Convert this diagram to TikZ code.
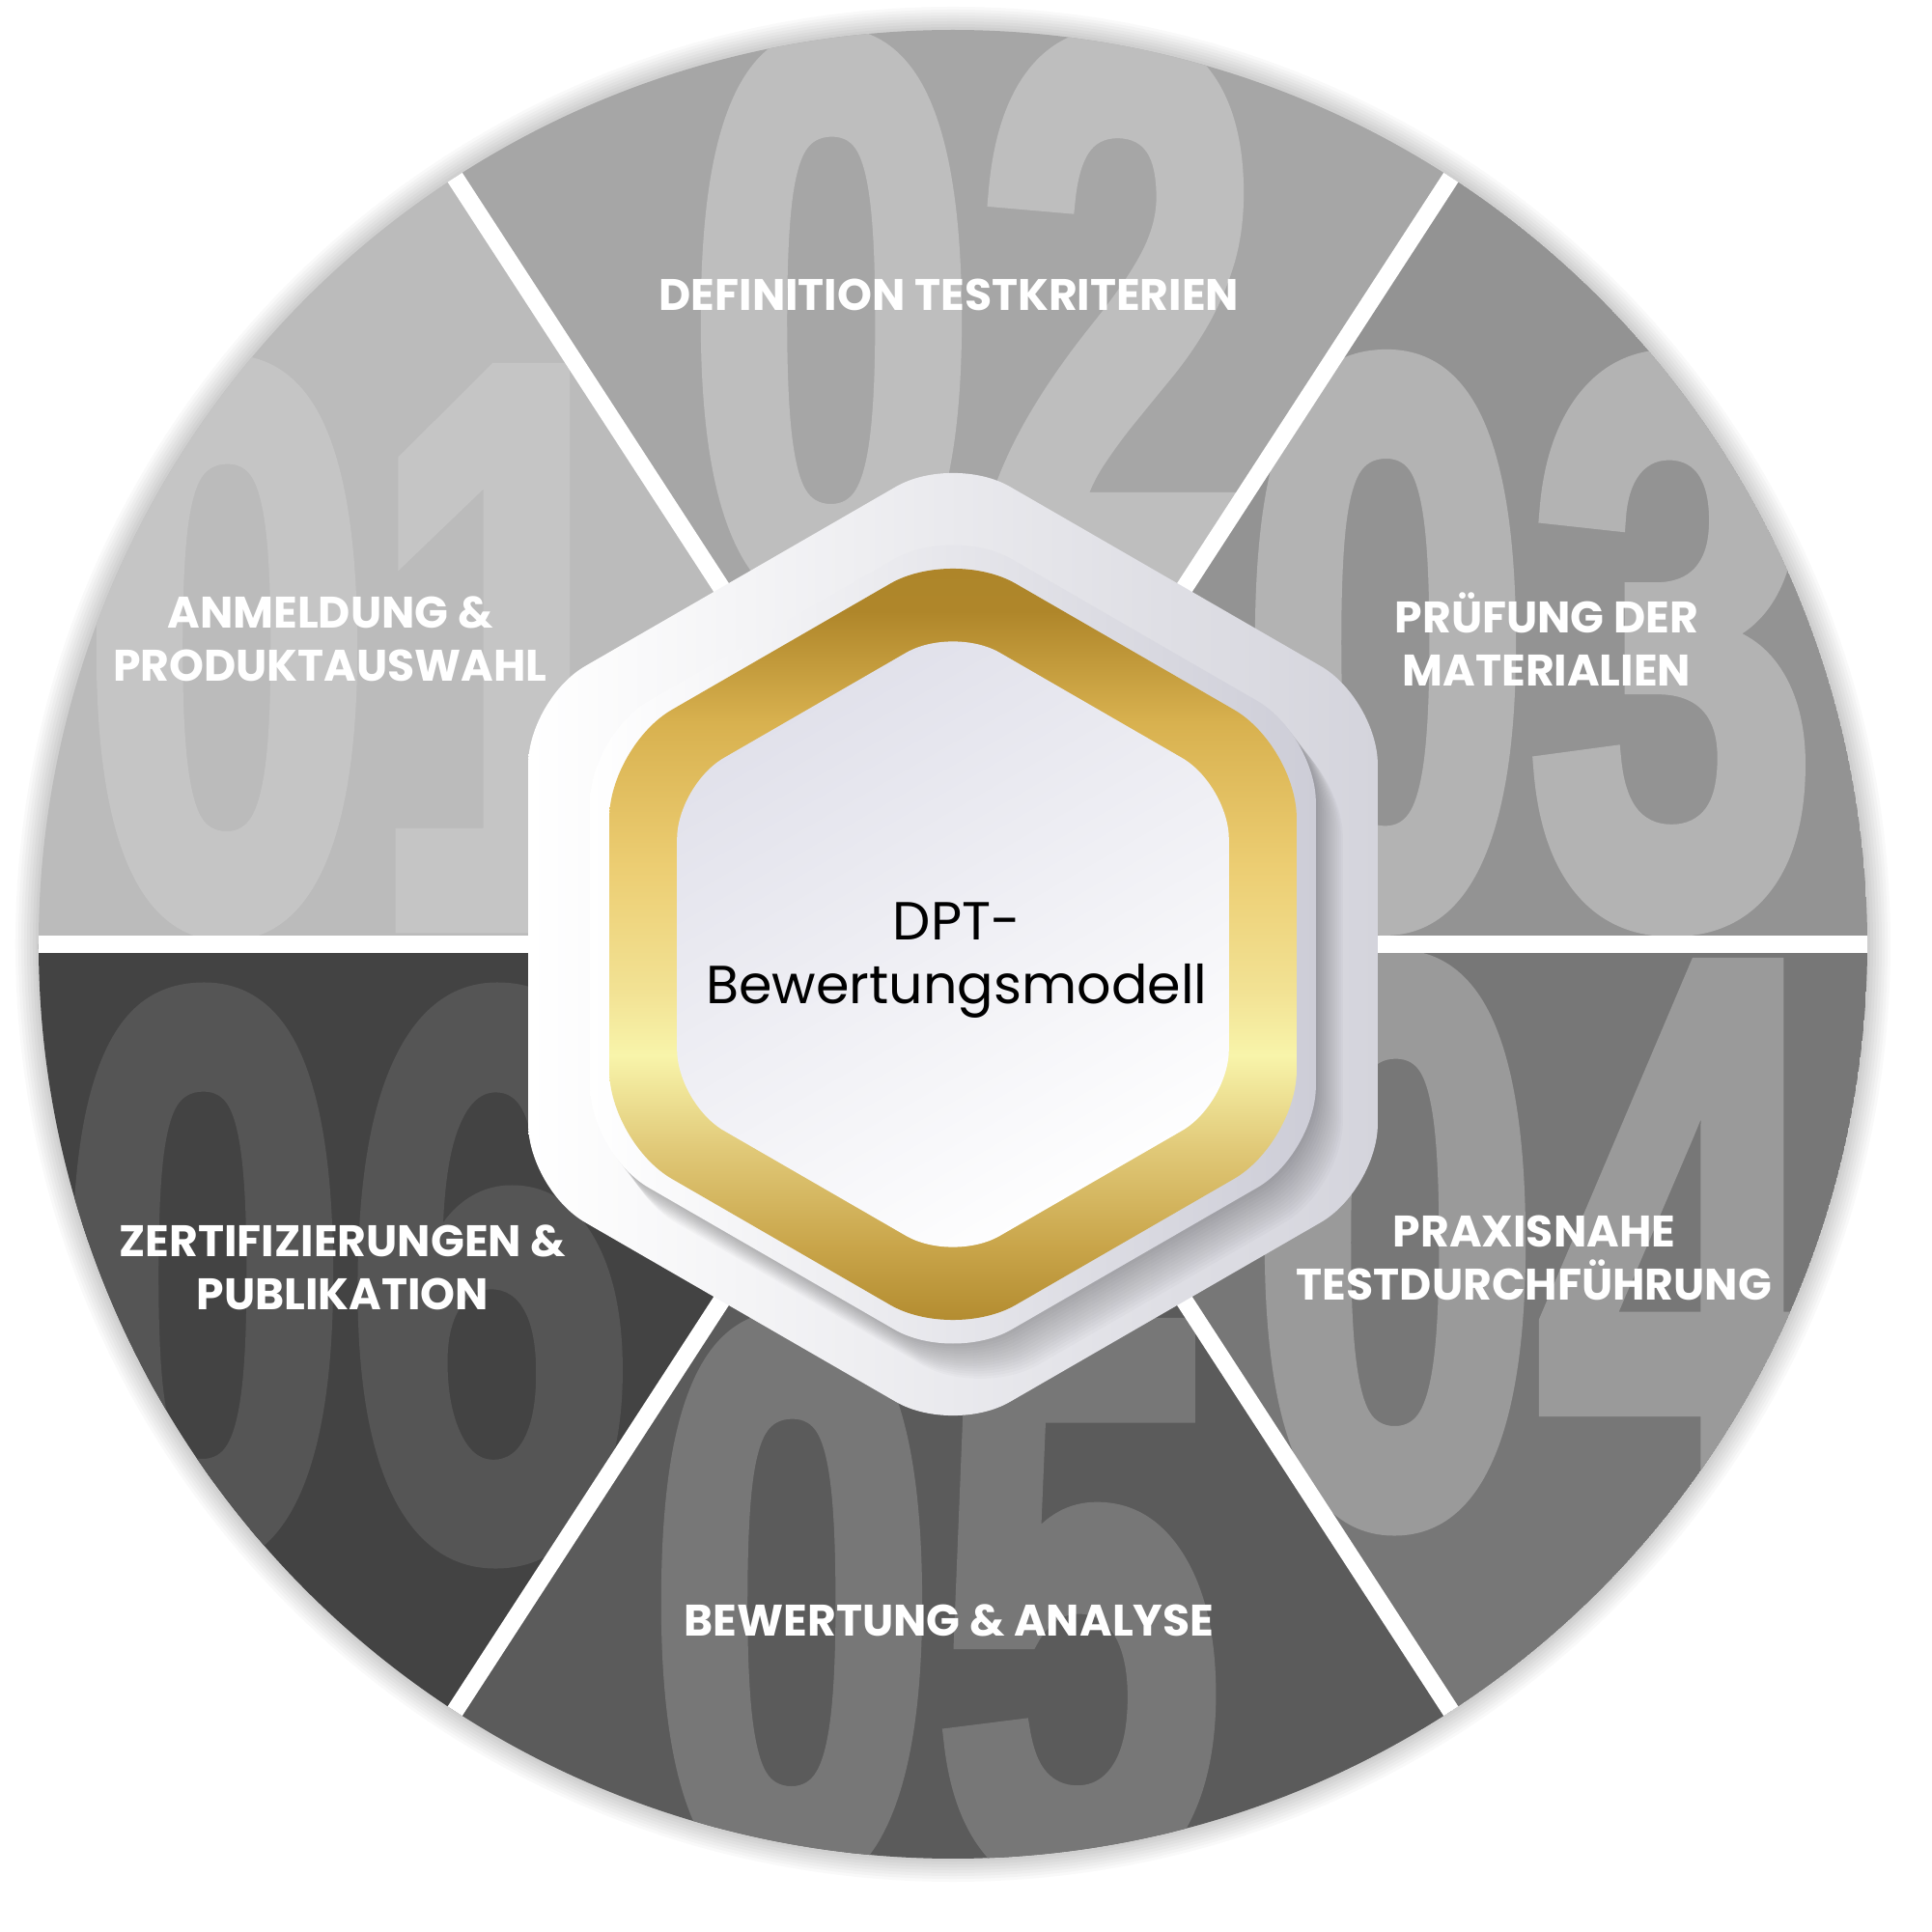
\documentclass[tikz,border=0pt]{standalone}
\usepackage{fontspec}
\setmainfont{Poppins}
\newfontfamily\digitfont{Liberation Sans Bold}[FakeBold=3]
\usetikzlibrary{positioning}

\definecolor{bgA}{HTML}{BBBBBB}\definecolor{fgA}{HTML}{C5C5C5}
\definecolor{bgB}{HTML}{A6A6A6}\definecolor{fgB}{HTML}{BEBEBE}
\definecolor{bgC}{HTML}{939393}\definecolor{fgC}{HTML}{B3B3B3}
\definecolor{bgD}{HTML}{777777}\definecolor{fgD}{HTML}{9A9A9A}
\definecolor{bgE}{HTML}{5B5B5B}\definecolor{fgE}{HTML}{777777}
\definecolor{bgF}{HTML}{434343}\definecolor{fgF}{HTML}{555555}
\definecolor{hexGrey}{HTML}{D4D4DC}
\definecolor{hexMid}{HTML}{CDCDD7}
\definecolor{hexLav}{HTML}{E0E0EA}
\definecolor{gA}{HTML}{AD8529}\definecolor{gB}{HTML}{C9A54A}
\definecolor{gC}{HTML}{E0C877}\definecolor{gD}{HTML}{F8F4AA}
\definecolor{gE}{HTML}{F2E294}\definecolor{gF}{HTML}{ECCD72}
\definecolor{gG}{HTML}{D8B14F}\definecolor{gH}{HTML}{AF862A}

\pgfdeclareverticalshading{goldring}{100bp}{color(0bp)=(gA); color(25bp)=(gA);
  color(31bp)=(gB); color(37bp)=(gC); color(43bp)=(gD); color(47bp)=(gE);
  color(55bp)=(gF); color(64bp)=(gG); color(71bp)=(gH); color(75bp)=(gA);
  color(100bp)=(gA)}

\begin{document}
\begin{tikzpicture}[
    hexpath/.style={insert path={(0:{#1*0.866}) -- (30:#1) -- (90:#1) -- (150:#1)
      -- (210:#1) -- (270:#1) -- (330:#1) -- cycle}},
    bignum/.style={inner sep=0pt, font=\digitfont\fontsize{234}{234}\selectfont},
    lbl/.style={text=white, align=center, inner sep=0pt,
      font=\bfseries\fontsize{13}{15.6}\selectfont},
    sepline/.style={white, line width=0.18cm}]
  \useasboundingbox (-9.87,-10.23) rectangle (10.13,9.78);
  \fill[white] (-9.87,-10.23) rectangle (10.13,9.78);

  \foreach \i in {1,...,8}
    \fill[black, opacity=0.022] (0,0) circle ({9.47+0.03*\i});

  \foreach \a/\b/\bg/\fg/\num/\nx/\ny in {
      123/180/bgA/fgA/01/-6.03/3.07, 57/123/bgB/fgB/02/0.23/6.46,
      0/57/bgC/fgC/03/5.97/3.12, -57/0/bgD/fgD/04/6.07/-3.09,
      -123/-57/bgE/fgE/05/-0.18/-6.82, -180/-123/bgF/fgF/06/-6.28/-3.43}{
    \begin{scope}
      \clip (0,0) -- (\a:9.47) arc[start angle=\a, end angle=\b, radius=9.47] -- cycle;
      \fill[\bg] (0,0) circle (9.47);
      \node[bignum, text=\fg] (n\num) at (\nx,\ny) {\scalebox{0.65}[1]{\num}};
    \end{scope}
  }
  \foreach \t in {0,57,123,180,237,303}
    \draw[sepline] (0,0) -- (\t:9.47);

  \node[lbl] (anmeldung) at (-6.45,3.16) {ANMELDUNG \&\\PRODUKTAUSWAHL};
  \node[lbl] (definition) at (-0.04,6.73) {DEFINITION TESTKRITERIEN};
  \node[lbl] (pruefung) at (6.15,3.16) {PRÜFUNG DER\\MATERIALIEN};
  \node[lbl] (praxis) at (6.02,-3.25) {PRAXISNAHE\\TESTDURCHFÜHRUNG};
  \node[lbl] (bewertung) at (-0.04,-7.00) {BEWERTUNG \& ANALYSE};
  \node[lbl] (zertifikat) at (-6.32,-3.35) {ZERTIFIZIERUNGEN \&\\PUBLIKATION};

  \shade[left color=white, right color=hexGrey, rounded corners=0.68cm] [hexpath=5.08];
  \foreach \i in {1,...,14}
    \fill[black, opacity=0.02, rounded corners=0.7cm, xshift={0.02cm*\i},
      yshift={-0.026cm*\i}] [hexpath=4.34];
  \shade[left color=white, right color=hexMid, rounded corners=0.7cm] [hexpath=4.34];
  \shade[shading=goldring, rounded corners=0.75cm] [hexpath=4.11];
  \shade[top color=hexLav, bottom color=white, shading angle=30, rounded corners=0.56cm]
    [hexpath=3.30];

  \node[align=center, inner sep=0pt, font=\fontsize{15.8}{18.8}\selectfont] (model)
    at (0.04,-0.17) {DPT-\\Bewertungsmodell};
\end{tikzpicture}
\end{document}
